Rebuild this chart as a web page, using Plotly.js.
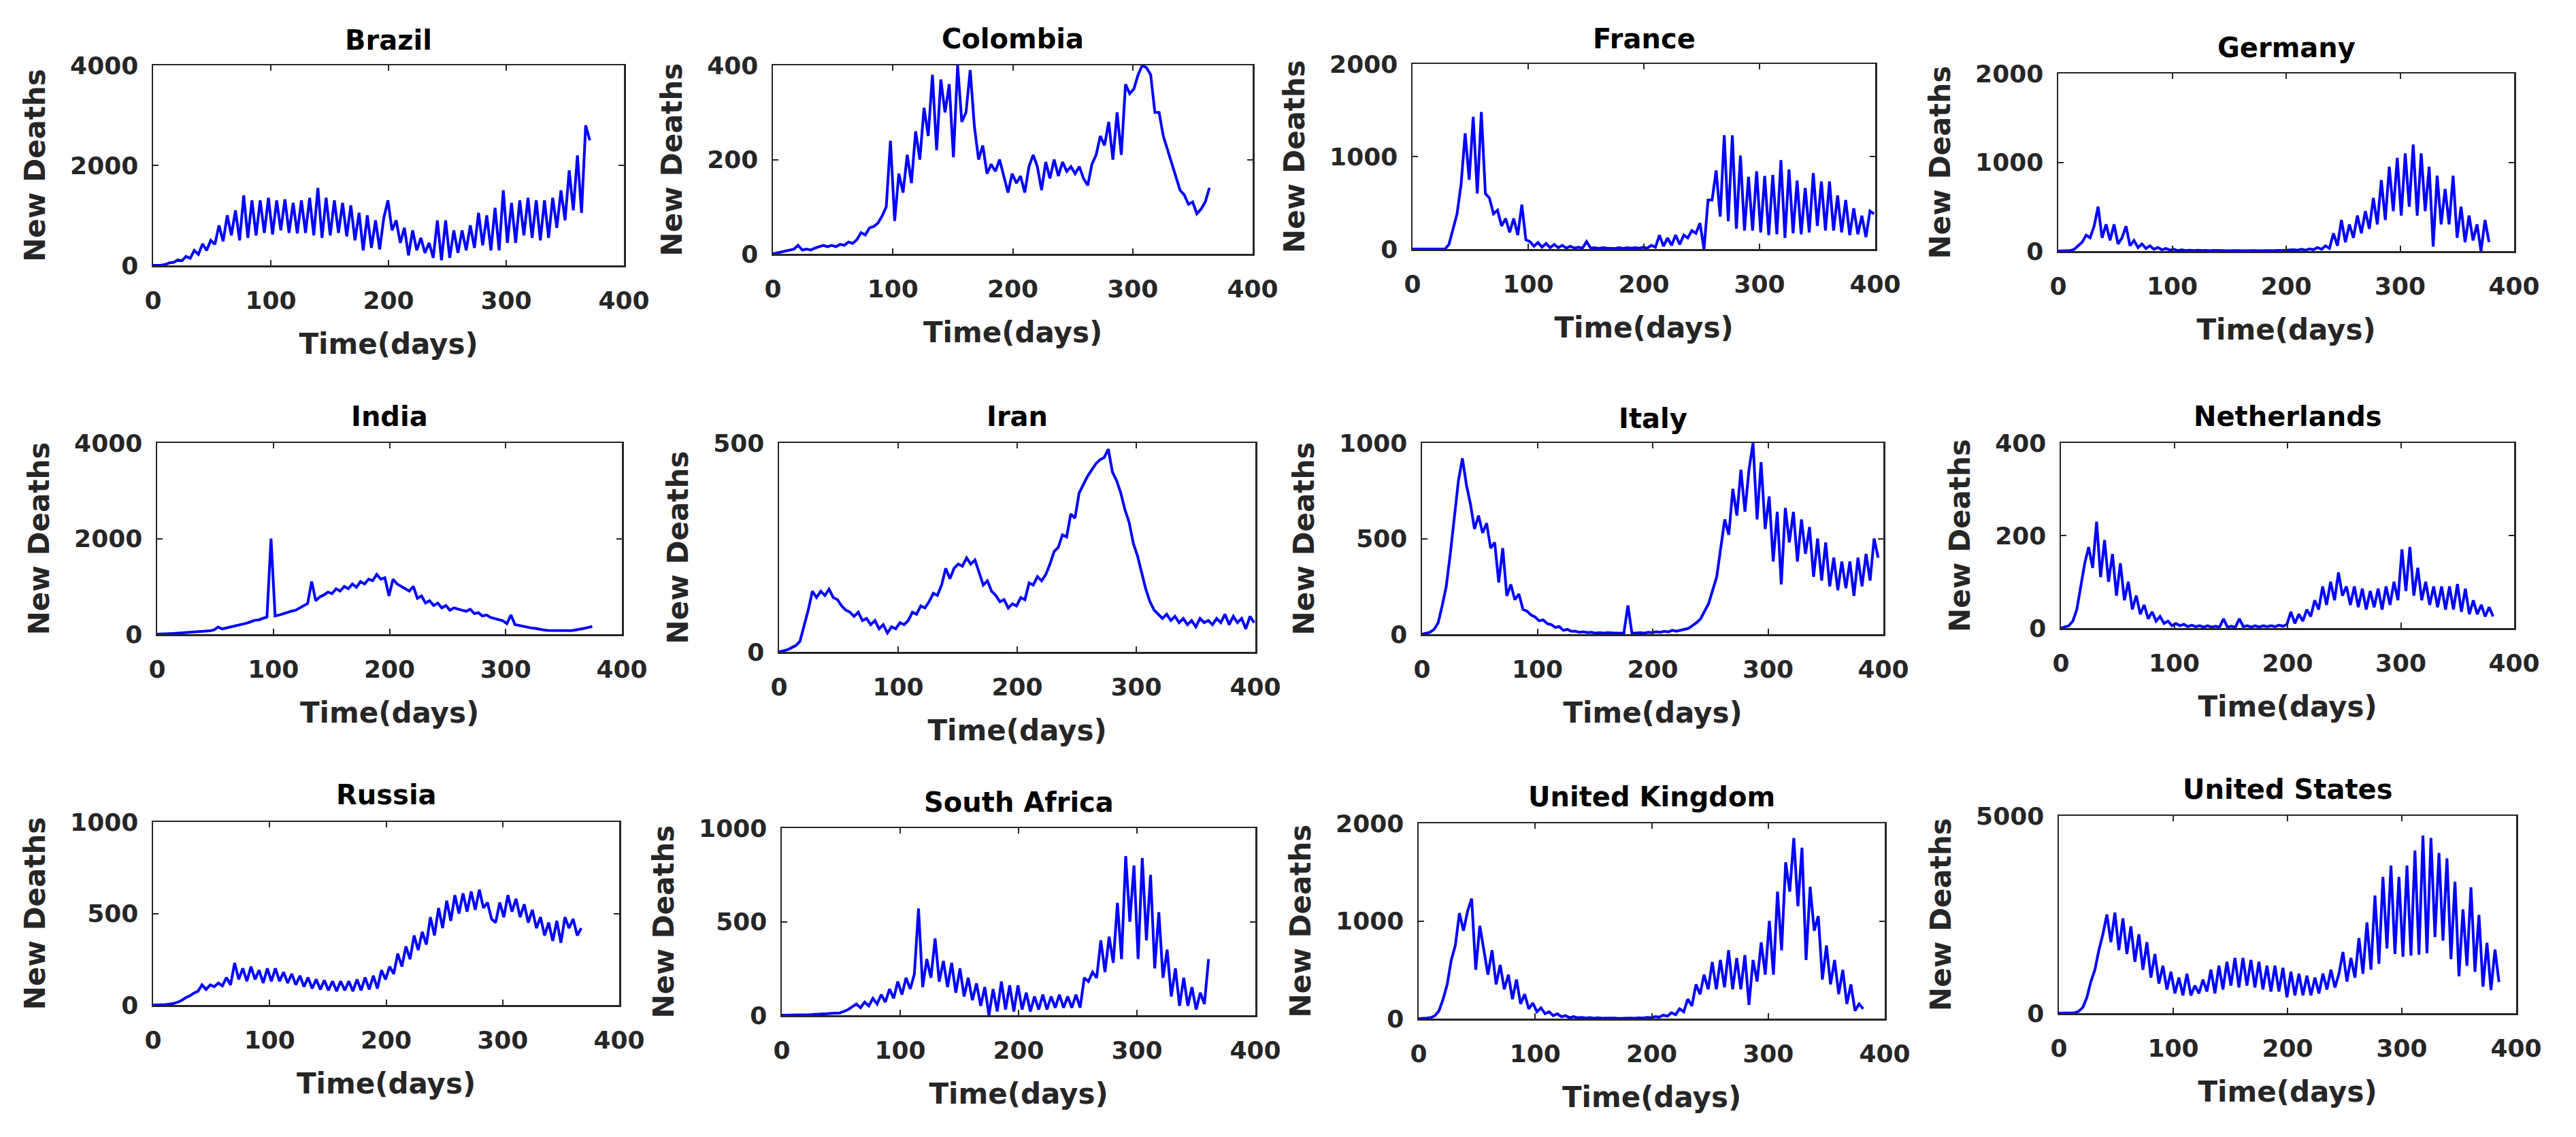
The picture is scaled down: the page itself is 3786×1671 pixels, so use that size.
<!DOCTYPE html>
<html>
<head>
<meta charset="utf-8">
<script src="https://cdn.plot.ly/plotly-3.0.1.min.js"></script>
<style>body{margin:0;background:#fff}</style>
</head>
<body>
<div id="chartDiv" style="width:3786px;height:1671px"></div>
<script>
"use strict";

// daily new deaths, read every half week (3.5 days) off the figure
const dayStep = 3.5;

const countryNames = ["Brazil", "Colombia", "France", "Germany", "India", "Iran",
    "Italy", "Netherlands", "Russia", "South Africa", "United Kingdom", "United States"];

const brazilDeaths = [0, 0, 5, 20, 50, 60, 110, 90, 180, 140, 300, 220, 430, 300, 500, 420, 800, 480, 1000, 600,
    1100, 500, 1400, 550, 1300, 600, 1300, 650, 1350, 620, 1300, 700, 1320, 650, 1250, 640, 1300, 650, 1350, 600,
    1550, 550, 1350, 600, 1300, 650, 1250, 580, 1200, 500, 1050, 300, 1000, 350, 900, 320, 950, 1300, 700, 900,
    450, 750, 200, 700, 300, 550, 250, 450, 150, 900, 100, 900, 150, 700, 250, 700, 300, 800, 350, 1050,
    400, 1000, 300, 1150, 300, 1500, 450, 1250, 450, 1300, 600, 1350, 550, 1300, 500, 1300, 550, 1350, 750, 1500,
    900, 1900, 1100, 2200, 1050, 2800, 2500];

const colombiaDeaths = [0, 2, 3, 5, 8, 10, 18, 8, 10, 8, 12, 15, 18, 15, 18, 15, 20, 18, 25, 22,
    30, 45, 40, 55, 58, 65, 80, 100, 240, 70, 170, 130, 210, 150, 260, 200, 310, 250, 380, 220,
    370, 300, 360, 205, 400, 280, 300, 390, 270, 200, 230, 170, 190, 175, 200, 165, 130, 170, 150, 165,
    130, 185, 210, 185, 135, 195, 160, 200, 165, 195, 175, 185, 170, 185, 160, 145, 190, 210, 250, 230,
    280, 200, 300, 210, 360, 340, 350, 380, 400, 395, 380, 300, 300, 250, 220, 190, 160, 135, 125, 105,
    110, 85, 95, 110, 140];

const franceDeaths = [0, 0, 0, 0, 0, 0, 0, 0, 0, 50, 220, 380, 700, 1250, 750, 1430, 600, 1480, 600, 550,
    380, 420, 250, 330, 180, 330, 150, 480, 100, 80, 30, 70, 20, 60, 15, 50, 15, 40, 10, 30,
    10, 20, 10, 80, 10, 15, 5, 15, 10, 10, 5, 15, 5, 15, 10, 15, 10, 20, 10, 40,
    20, 150, 30, 120, 40, 150, 50, 150, 120, 200, 170, 280, 0, 530, 530, 850, 350, 1230, 300, 1230,
    220, 1010, 200, 780, 200, 840, 180, 790, 150, 800, 160, 960, 120, 860, 170, 740, 160, 660, 180, 820,
    250, 730, 200, 730, 200, 580, 180, 530, 150, 440, 160, 360, 130, 410, 380];

const germanyDeaths = [0, 0, 0, 5, 20, 60, 100, 180, 150, 280, 500, 150, 300, 120, 300, 80, 150, 280, 60, 120,
    40, 80, 30, 60, 20, 40, 15, 30, 10, 20, 5, 15, 5, 10, 5, 10, 5, 8, 3, 8,
    3, 5, 3, 5, 3, 5, 3, 5, 2, 5, 3, 5, 3, 5, 3, 8, 5, 10, 8, 15,
    10, 20, 10, 25, 15, 40, 20, 60, 30, 200, 60, 350, 100, 300, 150, 400, 200, 450, 250, 600,
    300, 800, 350, 950, 450, 1050, 400, 1100, 500, 1200, 400, 1100, 450, 950, 50, 850, 300, 700, 300, 850,
    150, 500, 100, 400, 120, 300, 0, 350, 100];

const indiaDeaths = [0, 0, 5, 10, 15, 20, 25, 30, 35, 40, 50, 55, 60, 70, 90, 150, 110, 130, 140, 170,
    180, 210, 230, 260, 290, 300, 330, 360, 2000, 380, 400, 430, 460, 480, 500, 550, 600, 640, 1100, 700,
    780, 820, 880, 850, 950, 900, 1000, 950, 1050, 980, 1100, 1050, 1150, 1120, 1250, 1150, 1180, 800, 1150, 1050,
    1000, 950, 900, 1000, 750, 800, 650, 700, 600, 650, 550, 600, 500, 550, 520, 500, 480, 520, 430, 450,
    380, 400, 350, 330, 300, 280, 220, 400, 200, 180, 170, 150, 130, 120, 100, 90, 80, 80, 70, 75,
    70, 80, 75, 90, 100, 120, 140, 160];

const iranDeaths = [0, 2, 5, 10, 15, 25, 60, 100, 145, 130, 145, 135, 150, 130, 125, 110, 100, 95, 85, 95,
    75, 80, 65, 75, 55, 65, 45, 60, 55, 70, 65, 75, 95, 90, 110, 105, 120, 140, 135, 160,
    200, 175, 200, 210, 205, 225, 210, 220, 190, 160, 170, 145, 135, 120, 125, 105, 115, 110, 130, 125,
    165, 160, 180, 170, 185, 210, 240, 250, 280, 275, 330, 320, 380, 400, 420, 435, 450, 460, 465, 485,
    430, 410, 380, 340, 310, 260, 230, 190, 150, 120, 100, 90, 80, 90, 75, 85, 70, 80, 65, 75,
    60, 80, 70, 75, 65, 80, 70, 90, 65, 85, 70, 80, 55, 85, 70];

const italyDeaths = [0, 5, 10, 25, 60, 150, 250, 420, 600, 800, 920, 780, 680, 550, 620, 530, 580, 450, 480, 270,
    450, 200, 260, 180, 210, 130, 120, 100, 90, 70, 75, 55, 50, 35, 40, 20, 25, 15, 15, 10,
    12, 8, 10, 5, 8, 5, 8, 5, 5, 5, 5, 150, 5, 5, 8, 5, 10, 8, 12, 10,
    15, 12, 20, 15, 20, 25, 30, 45, 60, 80, 120, 160, 230, 300, 450, 600, 520, 760, 620, 860,
    640, 860, 1000, 600, 900, 550, 720, 380, 640, 260, 660, 480, 640, 380, 600, 420, 560, 300, 500, 280,
    480, 250, 400, 230, 380, 240, 380, 200, 400, 250, 420, 280, 500, 400];

const netherlandsDeaths = [0, 2, 5, 15, 40, 90, 140, 175, 130, 230, 110, 190, 100, 160, 70, 140, 60, 100, 40, 70,
    30, 50, 20, 35, 15, 25, 10, 15, 5, 10, 5, 8, 3, 6, 3, 5, 2, 5, 2, 4,
    2, 20, 2, 4, 2, 20, 3, 5, 2, 5, 2, 5, 3, 5, 3, 6, 4, 8, 35, 10,
    30, 15, 40, 25, 60, 40, 90, 50, 100, 60, 120, 70, 90, 50, 90, 45, 85, 40, 80, 45,
    85, 40, 90, 50, 100, 60, 170, 80, 175, 70, 130, 60, 100, 50, 90, 45, 90, 40, 90, 40,
    95, 35, 85, 30, 60, 30, 50, 25, 45, 25];

const russiaDeaths = [0, 0, 0, 2, 5, 8, 15, 25, 40, 50, 65, 75, 110, 85, 110, 100, 120, 105, 150, 110,
    230, 140, 200, 130, 210, 140, 190, 120, 200, 130, 200, 130, 180, 120, 170, 110, 160, 100, 150, 90,
    140, 85, 135, 80, 130, 75, 130, 80, 130, 75, 140, 80, 150, 85, 160, 90, 190, 140, 210, 170,
    280, 210, 320, 250, 380, 300, 400, 330, 480, 380, 530, 420, 570, 460, 600, 500, 610, 510, 620, 520,
    630, 530, 560, 470, 450, 560, 480, 600, 510, 580, 480, 550, 450, 520, 420, 480, 380, 450, 350, 460,
    340, 480, 420, 470, 380, 420];

const southAfricaDeaths = [0, 0, 0, 0, 2, 2, 3, 3, 5, 5, 5, 8, 10, 10, 12, 20, 30, 45, 60, 40,
    70, 50, 90, 60, 110, 70, 140, 90, 180, 110, 200, 140, 220, 570, 150, 300, 200, 410, 180, 290,
    150, 280, 120, 250, 100, 200, 80, 170, 50, 150, 0, 140, 20, 180, 30, 160, 20, 160, 30, 120,
    20, 100, 30, 110, 30, 100, 40, 110, 40, 100, 40, 110, 40, 200, 180, 230, 200, 400, 230, 420,
    280, 600, 300, 850, 500, 800, 300, 840, 400, 750, 250, 550, 200, 350, 100, 250, 50, 200, 50, 150,
    30, 120, 60, 300];

const ukDeaths = [0, 0, 5, 10, 30, 80, 200, 350, 600, 750, 1080, 900, 1100, 1230, 500, 950, 700, 450, 700, 350,
    550, 300, 450, 200, 400, 150, 250, 100, 160, 70, 110, 50, 70, 30, 50, 20, 30, 10, 20, 8,
    12, 5, 10, 3, 8, 3, 6, 2, 5, 2, 5, 2, 5, 3, 8, 5, 12, 8, 20, 15,
    35, 25, 60, 40, 100, 70, 200, 130, 350, 250, 450, 300, 580, 300, 600, 320, 700, 300, 620, 300,
    650, 140, 600, 380, 780, 450, 1000, 450, 1300, 700, 1600, 1300, 1850, 1150, 1750, 600, 1350, 900, 1050, 400,
    750, 350, 600, 250, 500, 150, 350, 80, 150, 100];

const usDeaths = [0, 0, 0, 5, 10, 50, 150, 400, 800, 1100, 1600, 2000, 2500, 1800, 2550, 1600, 2400, 1500, 2200, 1300,
    2000, 1100, 1800, 900, 1500, 750, 1200, 600, 1050, 500, 900, 450, 1000, 450, 700, 500, 850, 550, 1100, 500,
    1200, 600, 1300, 700, 1400, 650, 1400, 700, 1350, 650, 1300, 600, 1200, 550, 1200, 550, 1150, 400, 1050, 450,
    1000, 450, 950, 450, 900, 500, 1000, 600, 1100, 650, 1000, 1550, 800, 1400, 900, 1900, 1000, 2300, 1100, 2980,
    1250, 3450, 1640, 3740, 1500, 3450, 1430, 3740, 1460, 4120, 1480, 4500, 1520, 4440, 1930, 4060, 1840, 3920, 1370, 3330,
    935, 2630, 1200, 3190, 1050, 2490, 670, 1780, 585, 1610, 790];

const deathSeries = [brazilDeaths, colombiaDeaths, franceDeaths, germanyDeaths, indiaDeaths, iranDeaths,
    italyDeaths, netherlandsDeaths, russiaDeaths, southAfricaDeaths, ukDeaths, usDeaths];

const yAxisMax = [4000, 400, 2000, 2000, 4000, 500, 1000, 400, 1000, 1000, 2000, 5000];
const yTickStep = [2000, 200, 1000, 1000, 2000, 500, 500, 200, 500, 500, 1000, 5000];
const xTickValues = [0, 100, 200, 300, 400];

// axes boxes in figure pixels: left, right, top, bottom
const figW = 3786, figH = 1671;
const panelBoxes = [
    [225, 917, 96, 390], [1136, 1841, 96, 373], [2076, 2756, 94, 366], [3025, 3695, 108, 369],
    [231, 914, 651, 932], [1145, 1845, 651, 958], [2090, 2768, 651, 932], [3029, 3695, 651, 923],
    [225, 910, 1208, 1477], [1149, 1845, 1217, 1492], [2085, 2770, 1210, 1497], [3026, 3698, 1199, 1489]
];
const titleCenterY = [59, 57, 57, 70, 612, 612, 615, 612, 1168, 1179, 1171, 1160];

const boldFont = {family: "DejaVu Sans", weight: "bold", color: "#262626"};

var traces = [];
var layout = {
    width: figW,
    height: figH,
    margin: {l: 0, r: 0, t: 0, b: 0},
    paper_bgcolor: "#ffffff",
    plot_bgcolor: "#ffffff",
    showlegend: false,
    annotations: []
};

deathSeries.forEach(function (values, i) {
    const n = i === 0 ? "" : String(i + 1);
    const box = panelBoxes[i];
    traces.push({
        x: values.map(function (v, k) { return k * dayStep; }),
        y: values,
        type: "scatter",
        mode: "lines",
        line: {color: "#0000ff", width: 4},
        xaxis: "x" + n,
        yaxis: "y" + n,
        hoverinfo: "skip"
    });
    const common = {
        showline: true,
        linecolor: "#262626",
        linewidth: 2.5,
        mirror: "ticks",
        ticks: "inside",
        ticklen: 8,
        tickwidth: 2,
        tickcolor: "#262626",
        showgrid: false,
        zeroline: false,
        fixedrange: true,
        tickfont: Object.assign({size: 36}, boldFont)
    };
    layout["xaxis" + n] = Object.assign({}, common, {
        domain: [box[0] / figW, box[1] / figW],
        anchor: "y" + n,
        range: [0, 400],
        tickvals: xTickValues,
        ticklabelstandoff: 18,
        title: {text: "Time(days)", font: Object.assign({size: 42}, boldFont), standoff: 30}
    });
    layout["yaxis" + n] = Object.assign({}, common, {
        domain: [1 - box[3] / figH, 1 - box[2] / figH],
        anchor: "x" + n,
        range: [0, yAxisMax[i]],
        tick0: 0,
        dtick: yTickStep[i],
        ticklabelstandoff: 12,
        title: {text: "New Deaths", font: Object.assign({size: 42}, boldFont), standoff: 24}
    });
    layout.annotations.push({
        text: countryNames[i],
        xref: "paper",
        yref: "paper",
        x: (box[0] + box[1]) / 2 / figW,
        y: 1 - titleCenterY[i] / figH,
        xanchor: "center",
        yanchor: "middle",
        showarrow: false,
        font: {family: "DejaVu Sans", weight: "bold", size: 40, color: "#000000"}
    });
});

Plotly.newPlot("chartDiv", traces, layout, {staticPlot: true});
</script>
</body>
</html>
